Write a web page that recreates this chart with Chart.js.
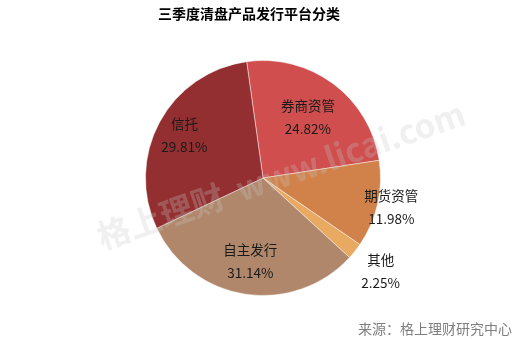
<!DOCTYPE html>
<html>
<head>
<meta charset="utf-8">
<script src="https://cdn.jsdelivr.net/npm/chart.js@4/dist/chart.umd.min.js"></script>
<style>
  html, body { margin: 0; padding: 0; background: #fff; }
</style>
</head>
<body>
<canvas id="chart" width="532" height="340"></canvas>
<script>
const categories = ['券商资管', '期货资管', '其他', '自主发行', '信托']
const shares = [24.82, 11.98, 2.25, 31.14, 29.81]
const colors = ['#d04e4e', '#d0824a', '#e8a961', '#b0876a', '#932f30']
// how far out each label sits, as a fraction of the radius
const labelRadius = [0.64, 1.12, 1.28, 0.72, 0.76]

const FONT = '"Noto Sans CJK SC", "Noto Sans", sans-serif'

const decorations = {
  id: 'decorations',
  afterDatasetsDraw(chart) {
    const ctx = chart.ctx
    const arcs = chart.getDatasetMeta(0).data
    ctx.save()
    ctx.textAlign = 'center'
    ctx.textBaseline = 'middle'
    ctx.fillStyle = '#1a1a1a'
    ctx.font = '13.5px ' + FONT
    arcs.forEach((arc, i) => {
      const mid = (arc.startAngle + arc.endAngle) / 2
      const r = arc.outerRadius * labelRadius[i]
      const x = arc.x + Math.cos(mid) * r
      const y = arc.y + Math.sin(mid) * r
      ctx.fillText(categories[i], x, y - 11.5)
      ctx.fillText(shares[i].toFixed(2) + '%', x, y + 11.5)
    })

    // watermark
    ctx.save()
    ctx.translate(281, 175)
    ctx.rotate(-19 * Math.PI / 180)
    ctx.font = 'bold 33px ' + FONT
    ctx.fillStyle = 'rgba(200,200,200,0.27)'
    ctx.fillText('格上理财  www.licai.com', 0, 0)
    ctx.restore()

    // title
    ctx.font = 'bold 14px ' + FONT
    ctx.fillStyle = '#000'
    ctx.fillText('三季度清盘产品发行平台分类', 249, 14)

    // source
    ctx.font = '14px ' + FONT
    ctx.fillStyle = '#7f7f7f'
    ctx.textAlign = 'right'
    ctx.fillText('来源：格上理财研究中心', 512, 329)
    ctx.restore()
  },
}

new Chart(document.getElementById('chart'), {
  type: 'pie',
  data: {
    labels: categories,
    datasets: [
      {
        data: shares,
        backgroundColor: colors,
        borderColor: 'rgba(255,255,255,0.45)',
        borderWidth: 1,
      },
    ],
  },
  options: {
    responsive: false,
    animation: false,
    rotation: -8,
    layout: {
      padding: { top: 60, bottom: 44, left: 0, right: 6 },
    },
    plugins: {
      legend: { display: false },
      title: { display: false },
      tooltip: { enabled: false },
    },
  },
  plugins: [decorations],
})
</script>
</body>
</html>
